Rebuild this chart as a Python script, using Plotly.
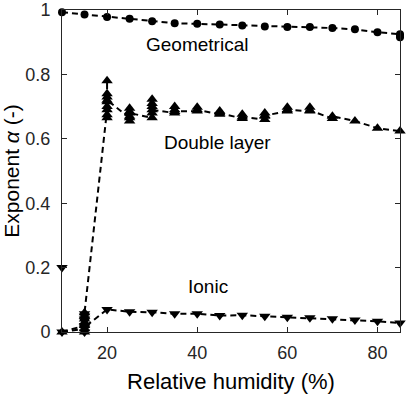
import plotly.graph_objects as go

# --- data (relative humidity %, exponent alpha) ---
geo_rh = [10, 15, 20, 25, 30, 35, 40, 45, 50, 55, 60, 65, 70, 75, 80, 85, 85, 85]
geo_alpha = [0.993, 0.986, 0.978, 0.973, 0.965, 0.959, 0.957, 0.955, 0.952, 0.949,
             0.947, 0.947, 0.944, 0.940, 0.931, 0.925, 0.915, 0.920]

dl_rh = ([10] + [15] * 7 + [20] * 9 + [25] * 6 + [30] * 6 + [35] * 4 + [40] * 3 + [45] * 3
         + [50] * 3 + [55] * 4 + [60] * 3 + [65] * 3 + [70] * 2 + [75, 80, 85])
dl_alpha = [0.0,
            0.02, 0.0, 0.01, 0.03, 0.04, 0.05, 0.06,
            0.69, 0.665, 0.675, 0.70, 0.715, 0.73, 0.74, 0.78, 0.72,
            0.665, 0.655, 0.67, 0.685, 0.695, 0.68,
            0.665, 0.68, 0.70, 0.71, 0.723, 0.69,
            0.68, 0.69, 0.70, 0.685,
            0.686, 0.698, 0.69,
            0.676, 0.686, 0.68,
            0.663, 0.676, 0.668,
            0.66, 0.67, 0.68, 0.672,
            0.686, 0.698, 0.69,
            0.686, 0.698, 0.688,
            0.663, 0.67,
            0.655, 0.633, 0.624]

# ionic: the first point (RH 10 %, alpha 0.2) is an outlier that is not on the dashed line
ion_outlier_rh = [10]
ion_outlier_alpha = [0.2]
ion_rh = [10] + [15] * 8 + [20, 25, 30, 35, 40, 45, 50, 55, 60, 65, 70, 75, 80, 85]
ion_alpha = [0.0,
             0.01, 0.0, 0.02, 0.035, 0.05, 0.057, 0.04, 0.015,
             0.07, 0.063, 0.061, 0.057, 0.057, 0.051, 0.052, 0.049, 0.046, 0.044,
             0.041, 0.037, 0.033, 0.028]

labels = ["Geometrical", "Double layer", "Ionic"]
label_x = [40, 44.4, 42.4]
label_y = [0.893, 0.587, 0.141]

INK = '#262626'
FONT = 'Liberation Sans, Arial, sans-serif'
line = dict(color='black', width=2, dash='6px,4px')

fig = go.Figure()
series = [(geo_rh, geo_alpha, 'circle', 8),
          (dl_rh, dl_alpha, 'triangle-up', 10),
          (ion_rh, ion_alpha, 'triangle-down', 10)]
# dashed connecting lines (clipped to the axes box), then markers on top (not clipped)
for xs, ys, sym, sz in series:
    fig.add_scatter(x=xs, y=ys, mode='lines', line=line, cliponaxis=True, hoverinfo='skip')
for xs, ys, sym, sz in series:
    fig.add_scatter(x=xs, y=ys, mode='markers', cliponaxis=False,
                    marker=dict(symbol=sym, size=sz, color='black', line=dict(width=0)))
fig.add_scatter(x=ion_outlier_rh, y=ion_outlier_alpha, mode='markers', cliponaxis=False,
                marker=dict(symbol='triangle-down', size=10, color='black', line=dict(width=0)))

for t, xx, yy in zip(labels, label_x, label_y):
    fig.add_annotation(x=xx, y=yy, text=t, showarrow=False,
                       font=dict(family=FONT, size=19, color='black'))

axis = dict(showline=True, linecolor=INK, linewidth=1, mirror='ticks', ticks='inside',
            ticklen=5, tickcolor=INK, showgrid=False, zeroline=False,
            tickfont=dict(family=FONT, size=18, color=INK))
fig.update_xaxes(range=[10, 85], tick0=0, dtick=20, ticklabelstandoff=4,
                 title=dict(text='Relative humidity (%)', font=dict(family=FONT, size=22, color='black'),
                            standoff=12), **axis)
fig.update_yaxes(range=[0, 1], tick0=0, dtick=0.2, ticklabelstandoff=7,
                 title=dict(text='Exponent <i>\u03b1</i> (-)', font=dict(family=FONT, size=21, color='black'),
                            standoff=0), **axis)

fig.update_layout(width=406, height=396, showlegend=False, plot_bgcolor='white', paper_bgcolor='white',
                  margin=dict(l=62, r=6, t=10, b=64, autoexpand=False))
fig.write_html("out.html", post_script="document.body.style.margin='0';",
               config={'displayModeBar': False})
